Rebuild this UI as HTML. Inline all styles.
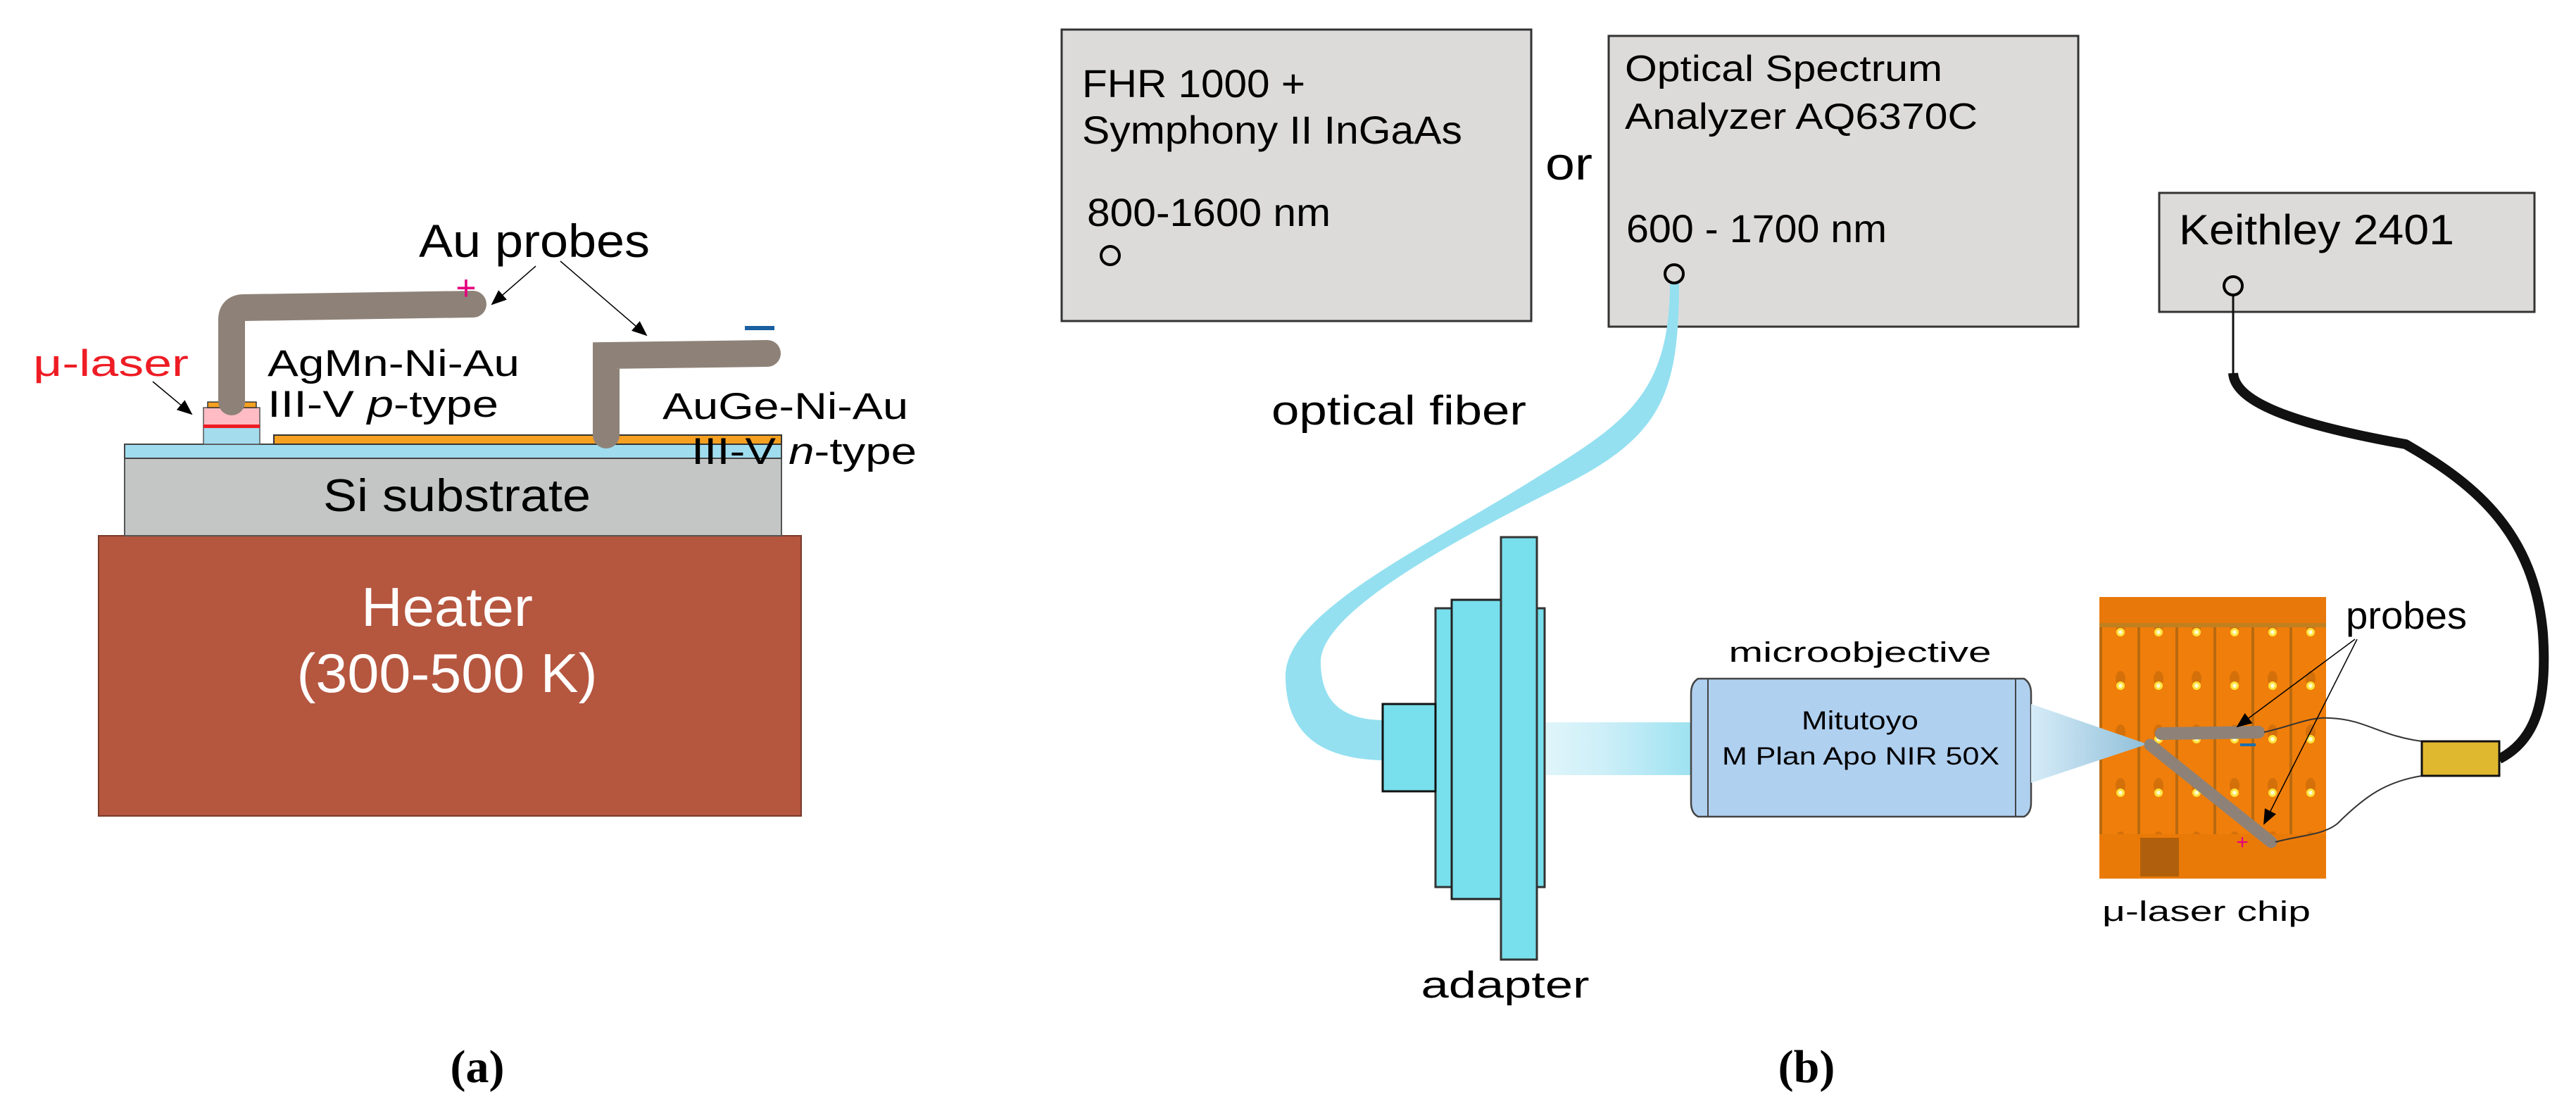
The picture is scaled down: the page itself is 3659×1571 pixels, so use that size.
<!DOCTYPE html>
<html><head><meta charset="utf-8"><style>
html,body{margin:0;padding:0;background:#fff;}
svg{display:block;}
text{font-family:"Liberation Sans",Arial,sans-serif;}
</style></head><body>
<svg width="3659" height="1571" viewBox="0 0 3659 1571" xmlns="http://www.w3.org/2000/svg">
<defs>
<marker id="ah" markerWidth="10" markerHeight="10" refX="9" refY="5" orient="auto" markerUnits="userSpaceOnUse" viewBox="0 0 10 10">
<path d="M0,0 L10,5 L0,10 Z" fill="#000"/></marker>
<marker id="ah2" markerWidth="22" markerHeight="22" refX="20" refY="11" orient="auto" markerUnits="userSpaceOnUse" viewBox="0 0 22 22">
<path d="M0,2 L22,11 L0,20 Z" fill="#000"/></marker>
<linearGradient id="beam" x1="0" x2="1" y1="0" y2="0"><stop offset="0" stop-color="#dff5fa"/><stop offset="0.4" stop-color="#cdeff8"/><stop offset="1" stop-color="#9ee2f1"/></linearGradient>
<linearGradient id="cone" x1="0" x2="1" y1="0" y2="0"><stop offset="0" stop-color="#d6ecf8"/><stop offset="1" stop-color="#8fbfd9"/></linearGradient>
<pattern id="chip" x="2982" y="848" width="54" height="76" patternUnits="userSpaceOnUse">
<rect width="54" height="76" fill="#f07e0a"/>
<rect x="0" y="0" width="4" height="76" fill="#b86a10"/>
<ellipse cx="30" cy="40" rx="7" ry="11" fill="#d4700a"/>
<circle cx="30" cy="50" r="6" fill="#ffe23a"/>
<circle cx="30" cy="50" r="3" fill="#fffbd0"/>
</pattern>
</defs>

<!-- ============ PANEL A ============ -->
<rect x="140" y="761" width="998" height="398" fill="#b5563f" stroke="#7a3a2a" stroke-width="2"/>
<text x="635" y="889" font-size="78" fill="#fff" text-anchor="middle" textLength="244" lengthAdjust="spacingAndGlyphs">Heater</text>
<text x="635" y="983" font-size="78" fill="#fff" text-anchor="middle" textLength="427" lengthAdjust="spacingAndGlyphs">(300-500 K)</text>

<rect x="177" y="651" width="933" height="110" fill="#c4c6c6" stroke="#555" stroke-width="2"/>
<text x="649" y="726" font-size="65" fill="#000" text-anchor="middle" textLength="380" lengthAdjust="spacingAndGlyphs">Si substrate</text>
<rect x="177" y="631" width="933" height="20" fill="#9fdcee" stroke="#444" stroke-width="2"/>
<rect x="389" y="618" width="721" height="13" fill="#f5a020" stroke="#333" stroke-width="2"/>
<!-- laser stack -->
<rect x="289" y="605" width="80" height="26" fill="#a4dcee" stroke="#555" stroke-width="1.5"/>
<rect x="289" y="579" width="80" height="26" fill="#ffbcc4" stroke="#555" stroke-width="1.5"/>
<rect x="289" y="603" width="80" height="5" fill="#ee1c24"/>
<rect x="295" y="571" width="69" height="8" fill="#f5a020" stroke="#333" stroke-width="1.5"/>
<!-- probes -->
<path d="M329,571 L329,454 Q329,438 345,437 L672,432" fill="none" stroke="#8e8278" stroke-width="38" stroke-linecap="round" stroke-linejoin="round"/>
<rect x="310" y="540" width="38" height="31" fill="#8e8278"/>
<path d="M861,618 L861,505 L1090,502" fill="none" stroke="#8e8278" stroke-width="38" stroke-linecap="round"/>
<rect x="842" y="590" width="38" height="28" fill="#8e8278"/>
<rect x="842" y="487" width="20" height="36" fill="#8e8278"/>
<text x="662" y="426" font-size="50" fill="#e6007e" text-anchor="middle">+</text>
<rect x="1058" y="463" width="42" height="6" fill="#1a5fa0"/>
<text x="595" y="365" font-size="66" fill="#000" textLength="328" lengthAdjust="spacingAndGlyphs">Au probes</text>
<line x1="761" y1="378" x2="699" y2="432" stroke="#000" stroke-width="1.5" marker-end="url(#ah2)"/>
<line x1="796" y1="371" x2="918" y2="476" stroke="#000" stroke-width="1.5" marker-end="url(#ah2)"/>
<text x="47" y="534" font-size="53" fill="#ee1c24" textLength="221" lengthAdjust="spacingAndGlyphs">μ-laser</text>
<line x1="217" y1="542" x2="272" y2="588" stroke="#000" stroke-width="1.5" marker-end="url(#ah2)"/>
<text x="380" y="534" font-size="53" fill="#000" textLength="358" lengthAdjust="spacingAndGlyphs">AgMn-Ni-Au</text>
<text x="380" y="592" font-size="53" fill="#000" textLength="328" lengthAdjust="spacingAndGlyphs">III-V <tspan font-style="italic">p</tspan>-type</text>
<text x="941" y="595" font-size="53" fill="#000" textLength="349" lengthAdjust="spacingAndGlyphs">AuGe-Ni-Au</text>
<text x="982" y="659" font-size="53" fill="#000" textLength="320" lengthAdjust="spacingAndGlyphs">III-V <tspan font-style="italic">n</tspan>-type</text>

<text x="678" y="1537" font-size="66" font-weight="bold" fill="#000" text-anchor="middle" style="font-family:'Liberation Serif',serif">(a)</text>

<!-- ============ PANEL B ============ -->
<rect x="1508" y="42" width="667" height="414" fill="#dcdbda" stroke="#333" stroke-width="3"/>
<text x="1537" y="138" font-size="56" textLength="317" lengthAdjust="spacingAndGlyphs">FHR 1000 +</text>
<text x="1537" y="204" font-size="56" textLength="540" lengthAdjust="spacingAndGlyphs">Symphony II InGaAs</text>
<text x="1544" y="321" font-size="56" textLength="346" lengthAdjust="spacingAndGlyphs">800-1600 nm</text>
<circle cx="1577" cy="363" r="13" fill="none" stroke="#000" stroke-width="4"/>
<text x="2195" y="255" font-size="65" textLength="67" lengthAdjust="spacingAndGlyphs">or</text>

<rect x="2285" y="51" width="667" height="413" fill="#dcdbda" stroke="#333" stroke-width="3"/>
<text x="2308" y="115" font-size="52" textLength="451" lengthAdjust="spacingAndGlyphs">Optical Spectrum</text>
<text x="2308" y="183" font-size="52" textLength="501" lengthAdjust="spacingAndGlyphs">Analyzer AQ6370C</text>
<text x="2310" y="344" font-size="56" textLength="370" lengthAdjust="spacingAndGlyphs">600 - 1700 nm</text>

<rect x="3067" y="274" width="533" height="169" fill="#dcdbda" stroke="#333" stroke-width="3"/>
<text x="3095" y="347" font-size="60" textLength="391" lengthAdjust="spacingAndGlyphs">Keithley 2401</text>

<!-- fiber -->
<path d="M2372,400 C2372,560 2310,600 2180,680 C2020,780 1826,870 1826,960 C1826,1060 1900,1078 1964,1080 L1964,1023 C1910,1022 1876,1000 1876,940 C1876,870 2060,770 2220,690 C2360,620 2385,560 2385,400 Z" fill="#94e0f0"/>
<circle cx="2378" cy="389" r="13" fill="#dcdbda" stroke="#000" stroke-width="4"/>
<text x="1806" y="603" font-size="58" textLength="362" lengthAdjust="spacingAndGlyphs">optical fiber</text>

<!-- Keithley cable -->
<path d="M3172,418 L3172,540" stroke="#111" stroke-width="3" fill="none"/>
<path d="M3172,530 C3175,580 3300,610 3417,631 C3520,690 3600,760 3612,900 C3618,990 3605,1050 3550,1078" stroke="#111" stroke-width="14" fill="none"/>
<circle cx="3172" cy="406" r="13" fill="#dcdbda" stroke="#000" stroke-width="4"/>

<!-- adapter -->
<rect x="2039" y="864" width="155" height="396" fill="#78dfec" stroke="#333" stroke-width="3"/>
<rect x="2062" y="852" width="70" height="425" fill="#78dfec" stroke="#222" stroke-width="3"/>
<rect x="2132" y="763" width="51" height="600" fill="#78dfec" stroke="#333" stroke-width="3"/>
<rect x="1964" y="1000" width="75" height="124" fill="#78dfec" stroke="#111" stroke-width="3"/>
<text x="2138" y="1417" font-size="53" text-anchor="middle" textLength="239" lengthAdjust="spacingAndGlyphs">adapter</text>

<!-- beam -->
<rect x="2196" y="1026" width="206" height="75" fill="url(#beam)"/>
<!-- objective -->
<path d="M2412,964 L2875,964 Q2885,970 2885,985 L2885,1140 Q2885,1155 2875,1160 L2412,1160 Q2402,1155 2402,1140 L2402,985 Q2402,970 2412,964 Z" fill="#b0d0f0" stroke="#444" stroke-width="2.5"/>
<line x1="2426" y1="964" x2="2426" y2="1160" stroke="#444" stroke-width="2"/>
<line x1="2863" y1="964" x2="2863" y2="1160" stroke="#444" stroke-width="2"/>
<text x="2642" y="940" font-size="40" text-anchor="middle" textLength="373" lengthAdjust="spacingAndGlyphs">microobjective</text>
<text x="2642" y="1036" font-size="37" text-anchor="middle" textLength="166" lengthAdjust="spacingAndGlyphs">Mitutoyo</text>
<text x="2643" y="1086" font-size="35" text-anchor="middle" textLength="394" lengthAdjust="spacingAndGlyphs">M Plan Apo NIR 50X</text>

<!-- chip -->
<rect x="2982" y="848" width="322" height="400" fill="url(#chip)"/>
<rect x="2982" y="848" width="322" height="40" fill="#e8780a"/>
<rect x="2982" y="885" width="322" height="6" fill="#c08020"/>
<rect x="2982" y="1185" width="322" height="63" fill="#ea7a08"/>
<rect x="3040" y="1190" width="55" height="55" fill="#b0600c"/>
<polygon points="2885,1000 2885,1112 3050,1057" fill="url(#cone)"/>
<line x1="3070" y1="1042" x2="3208" y2="1040" stroke="#8e8278" stroke-width="18" stroke-linecap="round"/>
<line x1="3054" y1="1058" x2="3226" y2="1196" stroke="#8e8278" stroke-width="17" stroke-linecap="round"/>
<rect x="3182" y="1056" width="22" height="4" fill="#1a6fb0"/>
<text x="3185" y="1206" font-size="30" fill="#e6007e" text-anchor="middle">+</text>
<text x="3134" y="1308" font-size="40" text-anchor="middle" textLength="296" lengthAdjust="spacingAndGlyphs">μ-laser chip</text>
<!-- wires -->
<path d="M3216,1040 C3260,1030 3280,1018 3310,1020 C3360,1022 3380,1045 3440,1053" fill="none" stroke="#333" stroke-width="2"/>
<path d="M3232,1196 C3270,1186 3300,1186 3320,1170 C3360,1130 3390,1110 3440,1102" fill="none" stroke="#333" stroke-width="2"/>
<rect x="3440" y="1053" width="110" height="49" fill="#e0b830" stroke="#111" stroke-width="3"/>
<text x="3332" y="893" font-size="55" textLength="172" lengthAdjust="spacingAndGlyphs">probes</text>
<line x1="3345" y1="908" x2="3178" y2="1032" stroke="#000" stroke-width="1.5" marker-end="url(#ah2)"/>
<line x1="3348" y1="908" x2="3216" y2="1170" stroke="#000" stroke-width="1.5" marker-end="url(#ah2)"/>

<text x="2566" y="1537" font-size="66" font-weight="bold" fill="#000" text-anchor="middle" style="font-family:'Liberation Serif',serif">(b)</text>
</svg>
</body></html>
